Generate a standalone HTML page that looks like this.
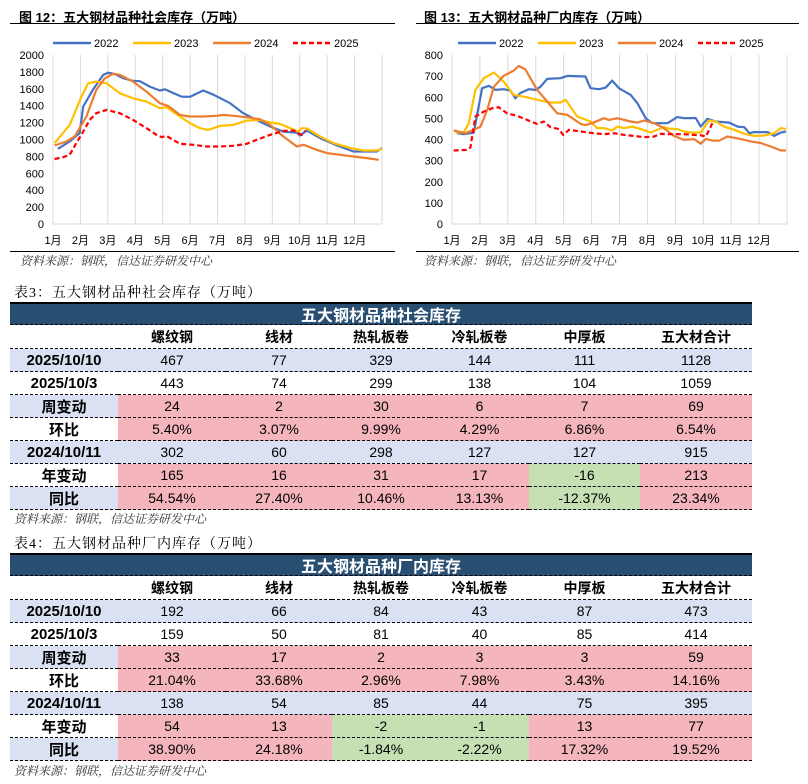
<!DOCTYPE html>
<html><head><meta charset="utf-8">
<style>
body{margin:0;background:#fff;width:808px;height:784px;position:relative;overflow:hidden;font-family:"Liberation Sans","Noto Sans CJK SC",sans-serif;}
.abs{position:absolute;}
.ttl{font-weight:bold;font-size:13px;color:#000;white-space:nowrap;}
.src{font-style:italic;font-size:12px;color:#333;font-family:"Liberation Serif","Noto Serif CJK SC",serif;white-space:nowrap;}
.ttitle{font-size:14px;font-family:"Liberation Serif","Noto Serif CJK SC",serif;letter-spacing:1px;white-space:nowrap;}
.cell{position:absolute;display:flex;align-items:center;justify-content:center;font-size:14px;color:#000;border-bottom:1px dashed #000;box-sizing:border-box;}
.bar{position:absolute;background:#284e72;color:#fff;font-weight:bold;font-size:16px;display:flex;align-items:center;justify-content:center;border-top:2px solid #000;border-bottom:1px dashed #000;box-sizing:border-box;}
</style></head><body>
<div class="abs ttl" style="left:19px;top:7px">图 12：五大钢材品种社会库存（万吨）</div>
<div class="abs" style="left:10px;top:23px;width:385px;height:1px;background:#000"></div>
<div class="abs ttl" style="left:424px;top:7px">图 13：五大钢材品种厂内库存（万吨）</div>
<div class="abs" style="left:416px;top:23px;width:383px;height:1px;background:#000"></div>
<svg class="abs" style="left:0;top:0" width="808" height="270" id="charts"></svg>
<div class="abs" style="left:10px;top:251px;width:385px;height:1px;background:#000"></div>
<div class="abs" style="left:416px;top:251px;width:383px;height:1px;background:#000"></div>
<div class="abs src" style="left:20px;top:252px">资料来源：钢联，信达证券研发中心</div>
<div class="abs src" style="left:424px;top:252px">资料来源：钢联，信达证券研发中心</div>

<div class="abs ttitle" style="left:14px;top:282px">表3：五大钢材品种社会库存（万吨）</div>
<div id="t3"></div>
<div class="abs src" style="left:14px;top:510px">资料来源：钢联，信达证券研发中心</div>
<div class="abs ttitle" style="left:14px;top:533px">表4：五大钢材品种厂内库存（万吨）</div>
<div id="t4"></div>
<div class="abs src" style="left:14px;top:762px">资料来源：钢联，信达证券研发中心</div>

<script>
// ---- chart data (x in months since Jan 1, values in 万吨) ----
const monthLabels = ["1月","2月","3月","4月","5月","6月","7月","8月","9月","10月","11月","12月"];
const seriesNames = ["2022","2023","2024","2025"];
const socialTicks = [0,200,400,600,800,1000,1200,1400,1600,1800,2000];
const plantTicks = [0,100,200,300,400,500,600,700,800];

const s22x=[0.18,0.61,0.97,1.10,1.46,1.83,2.01,2.25,2.56,2.92,3.17,3.53,3.90,4.08,4.38,4.69,5.0,5.48,5.85,6.46,6.94,7.43,7.92,8.40,8.89,9.01,9.26,9.74,10.35,10.96,11.45,11.81,12.0];
const s22v=[890,976,1075,1390,1590,1765,1790,1775,1725,1693,1690,1626,1580,1594,1550,1508,1505,1580,1530,1430,1311,1230,1154,1094,1080,1047,1106,1016,930,858,858,858,898];
const s23x=[0.06,0.61,1.04,1.28,1.58,1.95,2.44,2.92,3.41,3.90,4.14,4.63,5.0,5.36,5.66,6.09,6.58,7.06,7.55,7.92,8.28,8.65,8.95,9.07,9.26,9.74,10.23,10.84,11.33,11.81,12.0];
const s23v=[956,1173,1508,1665,1685,1665,1547,1488,1449,1370,1382,1272,1193,1134,1114,1161,1173,1224,1230,1201,1185,1134,1094,1134,1130,1035,957,898,870,870,890];
const s24x=[0.06,0.49,0.79,1.22,1.58,1.89,2.19,2.44,2.92,3.41,3.90,4.20,4.63,5.0,5.48,5.97,6.21,6.58,7.06,7.55,7.92,8.40,8.65,8.89,9.14,9.62,9.99,10.48,10.96,11.45,11.88];
const s24v=[929,976,1035,1272,1587,1724,1776,1764,1685,1567,1429,1398,1291,1272,1272,1280,1291,1280,1264,1240,1173,1035,976,917,937,878,839,819,799,780,760];
const s25x=[0.06,0.37,0.61,0.85,1.10,1.34,1.58,1.95,2.44,2.92,3.41,3.78,3.96,4.14,4.63,5.12,5.60,6.09,6.58,7.06,7.43,7.92,8.40,8.77,8.95,9.07,9.20];
const s25v=[768,791,819,957,1094,1232,1311,1350,1311,1232,1134,1055,1028,1043,949,937,917,917,925,949,996,1055,1102,1106,1075,1055,1102];

const p22x=[0.18,0.42,0.78,1.08,1.32,1.56,1.85,2.09,2.27,2.45,2.75,2.99,3.17,3.41,3.89,4.13,4.78,4.96,5.26,5.50,5.74,5.98,6.40,6.64,6.94,7.18,7.72,8.07,8.31,8.73,8.91,9.15,9.45,9.93,10.23,10.47,10.65,10.83,11.30,11.54,11.78,11.96];
const p22v=[430,425,432,643,654,635,638,632,595,620,638,635,650,687,690,701,698,643,638,645,679,643,611,572,501,477,477,506,501,502,461,498,485,480,461,458,430,435,435,417,433,438];
const p23x=[0.12,0.42,0.60,0.84,1.14,1.50,1.85,2.21,2.69,3.17,3.53,3.89,4.07,4.49,4.96,5.20,5.44,5.74,5.92,6.16,6.46,6.76,7.11,7.59,7.83,8.07,8.31,8.55,8.91,9.21,9.45,9.74,10.11,10.47,10.83,11.18,11.54,11.78,11.96];
const p23v=[433,433,477,635,690,717,674,611,600,584,575,575,588,509,485,454,454,443,461,454,461,449,433,458,450,449,438,433,433,490,485,461,446,427,417,419,430,454,450];
const p24x=[0.06,0.48,0.78,1.02,1.26,1.50,1.85,2.21,2.39,2.63,3.05,3.41,3.77,4.13,4.61,4.78,5.02,5.44,5.62,5.92,6.40,6.64,6.88,7.24,7.59,7.95,8.31,8.67,8.91,9.09,9.33,9.57,9.87,10.35,10.71,11.06,11.42,11.78,11.96];
const p24v=[443,430,446,461,540,650,701,726,748,732,635,580,524,517,474,468,477,501,493,501,485,480,490,477,454,417,398,402,380,403,395,395,414,402,391,383,367,348,348];
const p25x=[0.06,0.54,0.66,0.84,1.14,1.44,1.67,1.97,2.33,2.69,3.05,3.29,3.53,3.83,3.98,4.19,4.61,5.08,5.44,5.80,6.16,6.52,6.88,7.24,7.47,7.83,8.31,8.67,8.91,9.09,9.27,9.33];
const p25v=[348,351,362,509,532,548,553,524,512,493,474,485,458,449,422,446,438,430,425,430,422,417,411,414,427,425,425,422,420,414,461,480];

const colors=["#4472C4","#FFC000","#ED7D31","#FF0000"];
const NS="http://www.w3.org/2000/svg";
const svg=document.getElementById('charts');
function mk(tag,attrs,parent){const e=document.createElementNS(NS,tag);for(const k in attrs)e.setAttribute(k,attrs[k]);(parent||svg).appendChild(e);return e;}

function drawChart(cfg){
  const g=mk('g',{});
  
  
  const xs=m=>cfg.x0+(cfg.x1-cfg.x0)*m/12;
  const ys=v=>cfg.y0-(cfg.y0-cfg.yt)*v/cfg.max;
  for(let i=0;i<=12;i++){
    const l=mk('line',{x1:xs(i),x2:xs(i),y1:cfg.yt,y2:cfg.y0,stroke:'#d9d9d9','stroke-width':1},g);
    
    
  }
  mk('line',{x1:cfg.x0,x2:cfg.x1,y1:cfg.y0,y2:cfg.y0,stroke:'#d9d9d9'},g);
  cfg.ticks.forEach(t=>{
    const tx=mk('text',{x:cfg.lx,y:ys(t)+4,'text-anchor':'end','font-size':11,fill:'#000'},g);
    tx.textContent=t;
    
    
  });
  monthLabels.forEach((m,i)=>{
    const tx=mk('text',{x:xs(i),y:244,'text-anchor':'middle','font-size':11,fill:'#000'},g);
    tx.textContent=m;
    
    
  });
  cfg.series.forEach((s,k)=>{
    const d=s[0].map((m,i)=>(i?'L':'M')+xs(m).toFixed(1)+','+ys(s[1][i]).toFixed(1)).join(' ');
    const p=mk('path',{d:d,fill:'none',stroke:colors[k],'stroke-width':2.2,'stroke-linejoin':'round'},g);
    if(k===3)p.setAttribute('stroke-dasharray','5,3');
    
    
  });
  const legX=[0,80,160,240];
  seriesNames.forEach((n,k)=>{
    const bx=cfg.legX+legX[k];
    const ln=mk('line',{x1:bx,x2:bx+38,y1:43,y2:43,stroke:colors[k],'stroke-width':2.4},g);
    if(k===3)ln.setAttribute('stroke-dasharray','5,3');
    
    
    const tx=mk('text',{x:bx+41,y:47,'font-size':11,fill:'#000'},g);
    tx.textContent=n;
    
    
  });
}
drawChart({name:'social-inventory-chart',x0:53,x1:382,y0:224,yt:55,max:2000,ticks:socialTicks,lx:44,legX:53,
  series:[[s22x,s22v],[s23x,s23v],[s24x,s24v],[s25x,s25v]]});
drawChart({name:'plant-inventory-chart',x0:452,x1:787,y0:224,yt:55,max:800,ticks:plantTicks,lx:443,legX:458,
  series:[[p22x,p22v],[p23x,p23v],[p24x,p24v],[p25x,p25v]]});

// ---- tables ----
const colHeads=["螺纹钢","线材","热轧板卷","冷轧板卷","中厚板","五大材合计"];
const rowLabels=["2025/10/10","2025/10/3","周变动","环比","2024/10/11","年变动","同比"];
const t3rows=[["467","77","329","144","111","1128"],["443","74","299","138","104","1059"],["24","2","30","6","7","69"],["5.40%","3.07%","9.99%","4.29%","6.86%","6.54%"],["302","60","298","127","127","915"],["165","16","31","17","-16","213"],["54.54%","27.40%","10.46%","13.13%","-12.37%","23.34%"]];
const t4rows=[["192","66","84","43","87","473"],["159","50","81","40","85","414"],["33","17","2","3","3","59"],["21.04%","33.68%","2.96%","7.98%","3.43%","14.16%"],["138","54","85","44","75","395"],["54","13","-2","-1","13","77"],["38.90%","24.18%","-1.84%","-2.22%","17.32%","19.52%"]];
const colEdges=[10,118,226,332,430,529,640,752];
const BL="#d9e1f2",PK="#f4b6bc",GR="#c6e0b4";
const labelBg=[BL,"#fff",BL,"#fff",BL,"#fff",BL];
function buildTable(id,top,title,rows){
  const host=document.getElementById(id);
  const bar=document.createElement('div');
  bar.className='bar';
  
  
  bar.style.cssText=`left:10px;top:${top}px;width:742px;height:23px`;
  bar.textContent=title;host.appendChild(bar);
  const h0=top+23;
  colHeads.forEach((c,i)=>{
    const d=document.createElement('div');d.className='cell';
    
    
    d.style.cssText=`left:${colEdges[i+1]}px;top:${h0}px;width:${colEdges[i+2]-colEdges[i+1]}px;height:24px;font-weight:bold`;
    d.textContent=c;host.appendChild(d);
  });
  const e=document.createElement('div');e.className='cell';
  e.style.cssText=`left:10px;top:${h0}px;width:108px;height:24px`;host.appendChild(e);
  rows.forEach((r,ri)=>{
    const y=h0+24+ri*23;
    const l=document.createElement('div');l.className='cell';
    
    
    l.style.cssText=`left:10px;top:${y}px;width:108px;height:23px;font-weight:bold;font-size:15px;background:${labelBg[ri]}`;
    l.textContent=rowLabels[ri];host.appendChild(l);
    r.forEach((v,ci)=>{
      let bg = (ri===0||ri===4)?BL:(ri===1?"#fff":(v.trim().startsWith('-')?GR:PK));
      const d=document.createElement('div');d.className='cell';
      
      
      d.style.cssText=`left:${colEdges[ci+1]}px;top:${y}px;width:${colEdges[ci+2]-colEdges[ci+1]}px;height:23px;background:${bg}`;
      d.textContent=v;host.appendChild(d);
    });
  });
}
buildTable('t3',302,"五大钢材品种社会库存",t3rows);
buildTable('t4',553,"五大钢材品种厂内库存",t4rows);
</script>
</body></html>
